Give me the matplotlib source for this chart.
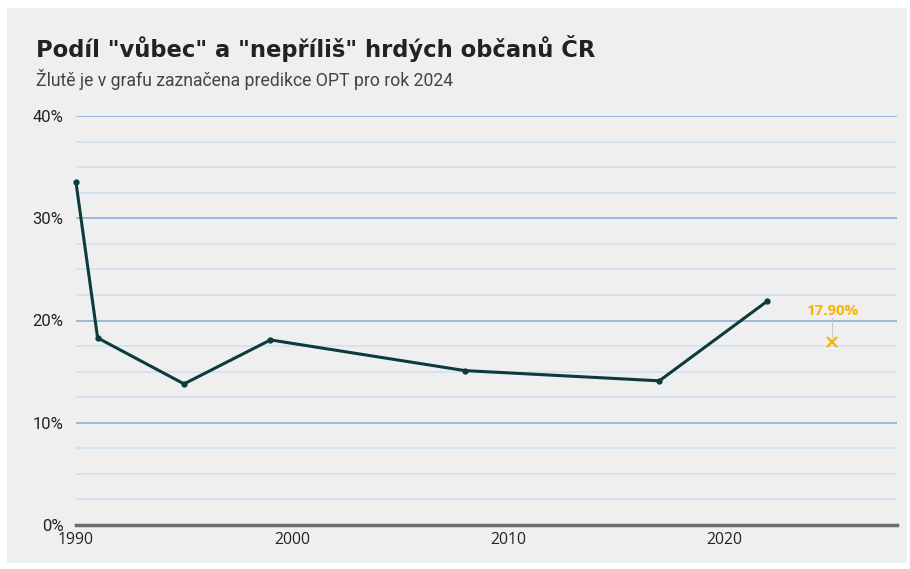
import matplotlib.pyplot as plt
from matplotlib.patches import Rectangle
from matplotlib.ticker import MultipleLocator, FuncFormatter

years = [1990, 1991, 1995, 1999, 2008, 2017, 2022]
share = [33.5, 18.3, 13.8, 18.1, 15.1, 14.1, 21.9]
pred_year = 2025
pred_value = 17.9
xticks = [1990, 2000, 2010, 2020]
yticks = [0, 10, 20, 30, 40]

fig = plt.figure(figsize=(9.1, 5.69), dpi=100)
fig.patch.set_facecolor('white')
# gray card behind the chart
card = Rectangle((7 / 910, 1 - 563 / 569), 900 / 910, 555 / 569,
                 transform=fig.transFigure, facecolor='#efefef',
                 edgecolor='none', zorder=-10)
fig.add_artist(card)

ax = fig.add_axes([76 / 910, 1 - 525 / 569, (897 - 76) / 910, (525 - 116) / 569])
ax.set_facecolor('none')

ax.plot(years, share, color='#0c3b3d', lw=2.2, marker='o', ms=3.5, zorder=5,
        clip_on=False)

# prediction point
ax.plot([pred_year], [pred_value], marker='x', ms=7, mew=1.6, color='#f7b500',
        ls='none', zorder=6)
ax.plot([pred_year, pred_year], [pred_value + 0.5, pred_value + 2.3],
        color='#c8c8c8', lw=0.8, zorder=4)
ax.text(pred_year, pred_value + 2.3, f'{pred_value:.2f}%', color='#f7b500',
        fontsize=10.8, fontweight='bold', ha='center', va='bottom',
        family='Open Sans')

ax.set_xlim(1990, 2028)
ax.set_ylim(0, 40)
ax.set_xticks(xticks)
ax.set_yticks(yticks)
ax.yaxis.set_minor_locator(MultipleLocator(2.5))
ax.yaxis.set_major_formatter(FuncFormatter(lambda v, p: f'{v:.0f}%'))

ax.grid(axis='y', which='major', color='#86a8d6', lw=1.1)
ax.grid(axis='y', which='minor', color='#cde0f2', lw=1.1)
ax.grid(axis='x', visible=False)
ax.set_axisbelow(True)

for s in ['top', 'right', 'left']:
    ax.spines[s].set_visible(False)
ax.spines['bottom'].set_color('#6b6b6b')
ax.spines['bottom'].set_linewidth(2.5)
ax.spines['bottom'].set_zorder(3)

ax.tick_params(axis='y', which='both', length=0, pad=9, labelsize=12,
               labelcolor='#222222')
ax.tick_params(axis='x', length=0, pad=5, labelsize=11.3, labelcolor='#222222')
for lab in ax.get_yticklabels():
    lab.set_family('Roboto')
for lab in ax.get_xticklabels():
    lab.set_family('Open Sans')

fig.text(36 / 910, 1 - 57 / 569, 'Podíl "vůbec" a "nepříliš" hrdých občanů ČR',
         fontsize=16.3, fontweight='bold', color='#222222', family='DejaVu Sans')
fig.text(36 / 910, 1 - 86 / 569, 'Žlutě je v grafu zaznačena predikce OPT pro rok 2024',
         fontsize=12.7, color='#444444', family='Roboto')

fig.savefig('out.png', dpi=100, facecolor=fig.get_facecolor())
